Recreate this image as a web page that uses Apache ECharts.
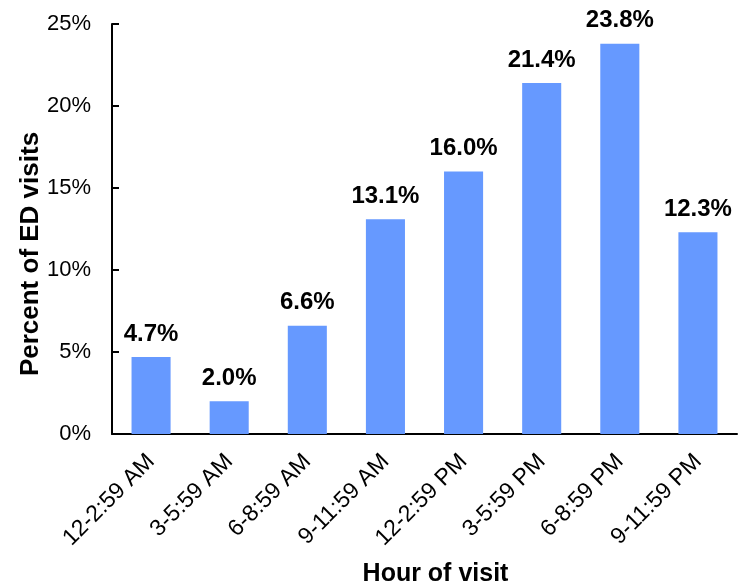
<!DOCTYPE html>
<html>
<head>
<meta charset="utf-8">
<script src="https://cdn.jsdelivr.net/npm/echarts@6/dist/echarts.min.js"></script>
<style>html,body{margin:0;padding:0;background:#fff}#c{width:743px;height:586px}</style>
</head>
<body>
<div id="c"></div>
<script>
const categories = ['12-2:59 AM','3-5:59 AM','6-8:59 AM','9-11:59 AM','12-2:59 PM','3-5:59 PM','6-8:59 PM','9-11:59 PM'];
const values = [4.7, 2.0, 6.6, 13.1, 16.0, 21.4, 23.8, 12.3];
const yTicks = [0, 5, 10, 15, 20, 25];

const chart = echarts.init(document.getElementById('c'));
const font = 'Liberation Sans, Arial, sans-serif';
chart.setOption({
  animation: false,
  grid: {left: 112, right: 6, top: 24, bottom: 152, containLabel: false, outerBoundsMode: 'none'},
  xAxis: {
    type: 'category',
    data: categories,
    axisLine: {lineStyle: {color: '#000', width: 2}},
    axisTick: {show: false},
    axisLabel: {rotate: 45, color: '#000', fontSize: 23, fontFamily: font, margin: 24, interval: 0},
    name: 'Hour of visit',
    nameLocation: 'middle',
    nameGap: 128,
    nameMoveOverlap: false,
    nameTextStyle: {fontSize: 25, fontWeight: 'bold', color: '#000', fontFamily: font, padding: [0, 0, 0, 22]}
  },
  yAxis: {
    type: 'value',
    min: yTicks[0], max: yTicks[yTicks.length-1], interval: 5,
    splitLine: {show: false},
    axisLine: {show: true, lineStyle: {color: '#000', width: 2}},
    axisTick: {show: true, inside: true, length: 7, lineStyle: {color: '#000', width: 2}},
    axisLabel: {formatter: v => v + '%', color: '#000', fontSize: 22, fontFamily: font, margin: 21},
    name: 'Percent of ED visits',
    nameLocation: 'middle',
    nameGap: 68,
    nameMoveOverlap: false,
    nameTextStyle: {fontSize: 26, fontWeight: 'bold', color: '#000', fontFamily: font, padding: [0, 50, 0, 0]}
  },
  series: [{
    type: 'bar',
    data: values,
    barWidth: '50%',
    itemStyle: {color: '#6699FF'},
    label: {show: true, position: 'top', distance: 11, formatter: p => p.value.toFixed(1) + '%', fontSize: 24, fontWeight: 'bold', color: '#000', fontFamily: font}
  }]
});
</script>
</body>
</html>
